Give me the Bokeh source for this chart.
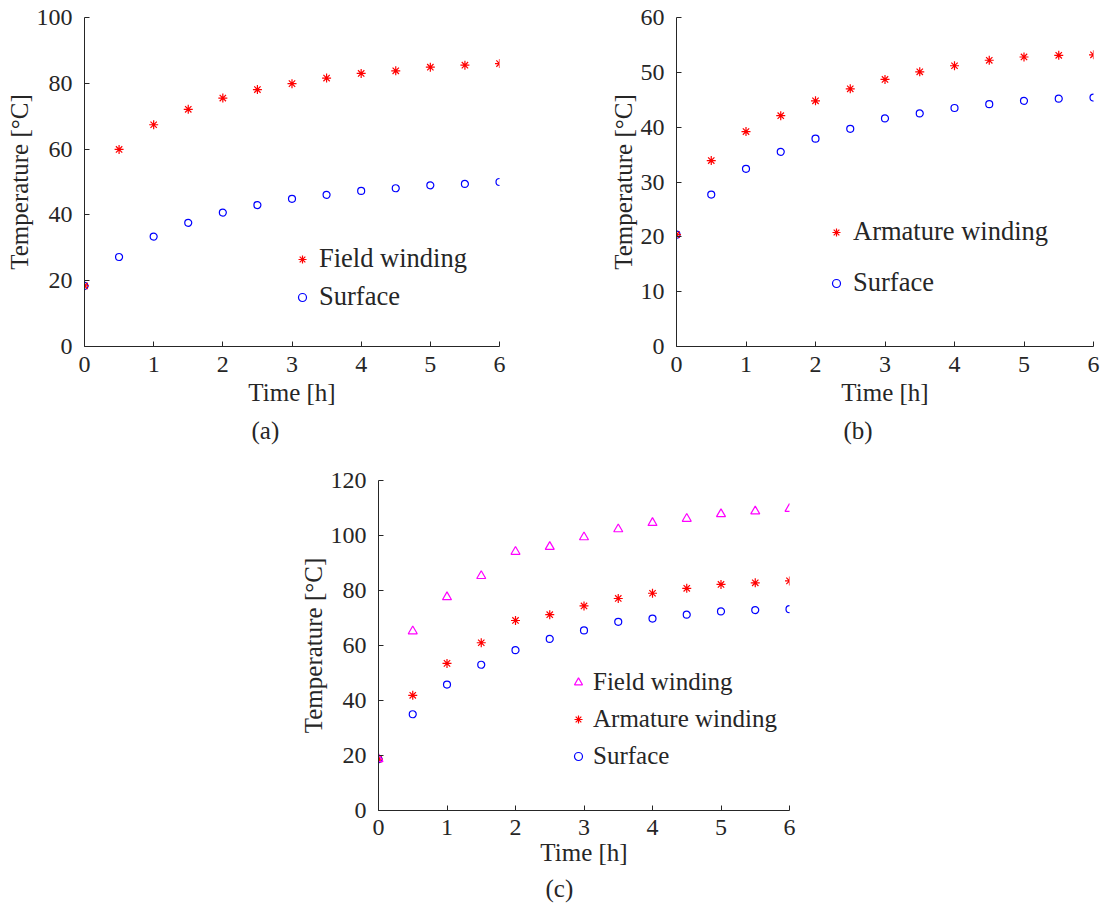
from bokeh.plotting import figure
from bokeh.layouts import column, row
from bokeh.models import Legend, LegendItem, Title, Spacer, FixedTicker, Range1d
from bokeh.embed import file_html
from bokeh.resources import INLINE

# ---------------- data ----------------
time_h = [0, 0.5, 1, 1.5, 2, 2.5, 3, 3.5, 4, 4.5, 5, 5.5, 6]

a_field = [18.4, 59.9, 67.4, 72.1, 75.5, 78.1, 79.9, 81.6, 83.0, 83.8, 84.9, 85.5, 86.0]
a_surface = [18.4, 27.2, 33.4, 37.6, 40.7, 43.0, 44.9, 46.1, 47.3, 48.1, 49.0, 49.4, 50.0]

b_armature = [20.4, 33.9, 39.2, 42.1, 44.8, 47.0, 48.7, 50.1, 51.2, 52.2, 52.8, 53.1, 53.2]
b_surface = [20.4, 27.7, 32.4, 35.5, 37.9, 39.7, 41.6, 42.5, 43.5, 44.2, 44.8, 45.2, 45.4]

c_field = [18.7, 65.2, 77.6, 85.3, 94.1, 95.9, 99.4, 102.3, 104.6, 106.1, 107.8, 108.8, 109.7]
c_armature = [18.7, 41.9, 53.5, 61.0, 69.1, 71.2, 74.4, 77.1, 79.0, 80.8, 82.2, 82.8, 83.5]
c_surface = [18.7, 35.0, 45.8, 53.0, 58.3, 62.4, 65.5, 68.6, 69.8, 71.2, 72.4, 72.9, 73.2]

x_ticks = [0, 1, 2, 3, 4, 5, 6]
a_y_ticks = [0, 20, 40, 60, 80, 100]
b_y_ticks = [0, 10, 20, 30, 40, 50, 60]
c_y_ticks = [0, 20, 40, 60, 80, 100, 120]

x_label = "Time [h]"
y_label = "Temperature [°C]"

FONT = "Liberation Serif"
TXT = "#262626"
TICK_FS = "24px"
LABEL_FS = "25px"


def make_fig(width, height, bl, br, bt, bb, y_ticks, caption,
             xl_standoff=10, xa_standoff=4, title_standoff=13):
    p = figure(width=width, height=height, output_backend="svg", toolbar_location=None,
               x_range=Range1d(x_ticks[0], x_ticks[-1]),
               y_range=Range1d(y_ticks[0], y_ticks[-1]),
               min_border_left=bl, min_border_right=br,
               min_border_top=bt, min_border_bottom=bb)
    p.outline_line_color = None
    p.xgrid.visible = False
    p.ygrid.visible = False
    p.background_fill_color = "white"
    p.border_fill_color = "white"
    p.xaxis.ticker = FixedTicker(ticks=x_ticks)
    p.yaxis.ticker = FixedTicker(ticks=y_ticks)
    p.xaxis.axis_label = x_label
    p.yaxis.axis_label = y_label
    for ax in p.axis:
        ax.axis_line_color = TXT
        ax.axis_line_width = 1
        ax.major_tick_line_color = TXT
        ax.major_tick_in = 5
        ax.major_tick_out = 0
        ax.minor_tick_line_color = None
        ax.major_label_text_font = FONT
        ax.major_label_text_font_size = TICK_FS
        ax.major_label_text_color = TXT
        ax.axis_label_text_font = FONT
        ax.axis_label_text_font_size = LABEL_FS
        ax.axis_label_text_font_style = "normal"
        ax.axis_label_text_color = TXT
    p.xaxis.major_label_standoff = xl_standoff
    p.xaxis.axis_label_standoff = xa_standoff
    p.yaxis.major_label_standoff = 12
    p.yaxis.axis_label_standoff = 1
    p.add_layout(Title(text=caption, align="left", offset=167, standoff=title_standoff,
                       text_font=FONT, text_font_size=LABEL_FS, text_font_style="normal",
                       text_color=TXT),
                 "below")
    return p


def star(p, y):
    return p.scatter(time_h, y, marker="asterisk", size=9, line_color="#ff0000", line_width=1.2)


def circ(p, y):
    return p.scatter(time_h, y, marker="circle", size=7, fill_color=None,
                     line_color="#0000ff", line_width=1.2)


def tri(p, y):
    return p.scatter(time_h, y, marker="triangle", size=9, fill_color=None,
                     line_color="#ff00ff", line_width=1.2)


def add_legend(p, items, loc, spacing, fs, standoff=7):
    lg = Legend(items=[LegendItem(label=l, renderers=[r]) for l, r in items], location=loc)
    lg.border_line_color = None
    lg.background_fill_alpha = 0
    lg.padding = 0
    lg.margin = 0
    lg.spacing = spacing
    lg.label_standoff = standoff
    lg.glyph_width = 20
    lg.glyph_height = 24
    lg.label_height = 24
    lg.label_text_font = FONT
    lg.label_text_font_size = fs
    lg.label_text_color = TXT
    p.add_layout(lg)


# (a)
pa = make_fig(568, 455, 84, 69, 17, 109, a_y_ticks, "(a)")
ra_s = circ(pa, a_surface)
ra_f = star(pa, a_field)
add_legend(pa, [("Field winding", ra_f), ("Surface", ra_s)], (208, 34), 7, "26.5px")

# (b)
pb = make_fig(538, 455, 108, 13, 16, 109, b_y_ticks, "(b)")
rb_s = circ(pb, b_surface)
rb_a = star(pb, b_armature)
add_legend(pb, [("Armature winding", rb_a), ("Surface", rb_s)], (150, 48), 20, "26.5px")

# (c)
pc = make_fig(515, 452, 84, 20, 25, 97, c_y_ticks, "(c)",
              xl_standoff=9, xa_standoff=1, title_standoff=9)
rc_s = circ(pc, c_surface)
rc_a = star(pc, c_armature)
rc_f = tri(pc, c_field)
add_legend(pc, [("Field winding", rc_f), ("Armature winding", rc_a), ("Surface", rc_s)],
           (190, 40), 9, "25px", standoff=5)

layout = column(row(pa, pb), row(Spacer(width=294, height=452), pc))

open("out.html", "w").write(file_html(layout, INLINE))
